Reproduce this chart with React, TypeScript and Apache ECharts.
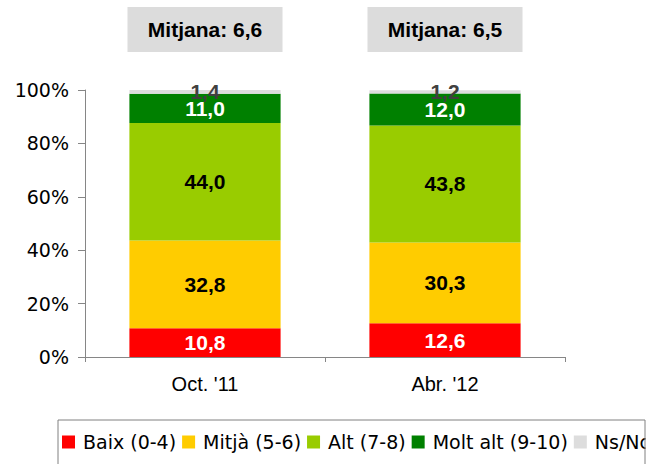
import React, { useEffect, useRef } from "react";
import * as echarts from "echarts";

const categories = ["Oct. '11", "Abr. '12"];
const means = ["Mitjana: 6,6", "Mitjana: 6,5"];
const seriesNames = ["Baix (0-4)", "Mitjà (5-6)", "Alt (7-8)", "Molt alt (9-10)", "Ns/Nc"];
const baix = [10.8, 12.6];
const mitja = [32.8, 30.3];
const alt = [44.0, 43.8];
const moltAlt = [11.0, 12.0];
const nsnc = [1.4, 1.2];
const yTicks = [0, 20, 40, 60, 80, 100];

const colors = ["#ff0000", "#ffcc00", "#99cc00", "#008000", "#dddddd"];
const labelColors = ["#ffffff", "#000000", "#000000", "#ffffff", "#404040"];

export default function App() {
  const ref = useRef<HTMLDivElement>(null);
  useEffect(() => {
    document.body.style.margin = "0";
    if (!ref.current) return;
    const chart = echarts.init(ref.current, undefined, { renderer: "svg" });
    const values = [baix, mitja, alt, moltAlt, nsnc];
    const fmt = (v: number) => v.toFixed(1).replace(".", ",");
    chart.setOption({
      animation: false,
      grid: { left: 85, right: 83, top: 90, bottom: 107 },
      legend: {
        left: 62,
        top: 431,
        width: 800,
        padding: 0,
        itemWidth: 13,
        itemHeight: 13,
        itemGap: 6,
        icon: "rect",
        data: seriesNames,
        textStyle: {
          fontFamily: "DejaVu Sans",
          fontSize: 19,
          color: "#000",
          lineHeight: 22,
          padding: [0, 0, 0, 3],
        },
      },
      graphic: [
        {
          type: "rect",
          z: 100,
          shape: { x: 58, y: 420, width: 587, height: 80 },
          style: { fill: "none", stroke: "#808080", lineWidth: 1 },
        },
        {
          type: "rect",
          z: 99,
          shape: { x: 645.5, y: 420, width: 20, height: 60 },
          style: { fill: "#ffffff" },
        },
      ],
      xAxis: [
        {
          type: "category",
          data: categories,
          axisLine: { lineStyle: { color: "#868686" } },
          axisTick: { show: true, length: 5, lineStyle: { color: "#868686" } },
          axisLabel: {
            fontFamily: "Liberation Sans",
            fontSize: 20,
            color: "#000",
            margin: 17,
          },
        },
        {
          type: "category",
          position: "top",
          data: categories,
          axisLine: { show: false },
          axisTick: { show: false },
          axisLabel: {
            formatter: (_v: string, i: number) => means[i],
            fontFamily: "Liberation Sans",
            fontWeight: "bold",
            fontSize: 21,
            color: "#000",
            backgroundColor: "#dcdcdc",
            width: 155,
            height: 45,
            lineHeight: 45,
            align: "center",
            margin: 38,
          },
        },
      ],
      yAxis: {
        type: "value",
        min: yTicks[0],
        max: yTicks[yTicks.length - 1],
        interval: 20,
        splitLine: { show: false },
        axisLine: { show: true, lineStyle: { color: "#868686" } },
        axisTick: { show: true, length: 7, lineStyle: { color: "#868686" } },
        axisLabel: {
          formatter: "{value}%",
          fontFamily: "DejaVu Sans",
          fontSize: 19,
          color: "#000",
          margin: 16,
        },
      },
      series: seriesNames.map((name, k) => ({
        name,
        type: "bar",
        stack: "total",
        barWidth: "63%",
        data: values[k],
        itemStyle: { color: colors[k] },
        label: {
          show: true,
          position: "inside",
          formatter: (p: any) => fmt(p.value),
          fontFamily: "Liberation Sans",
          fontWeight: "bold",
          fontSize: 21,
          color: labelColors[k],
        },
      })),
    });
    return () => chart.dispose();
  }, []);
  return <div ref={ref} style={{ width: 648, height: 464 }} />;
}
